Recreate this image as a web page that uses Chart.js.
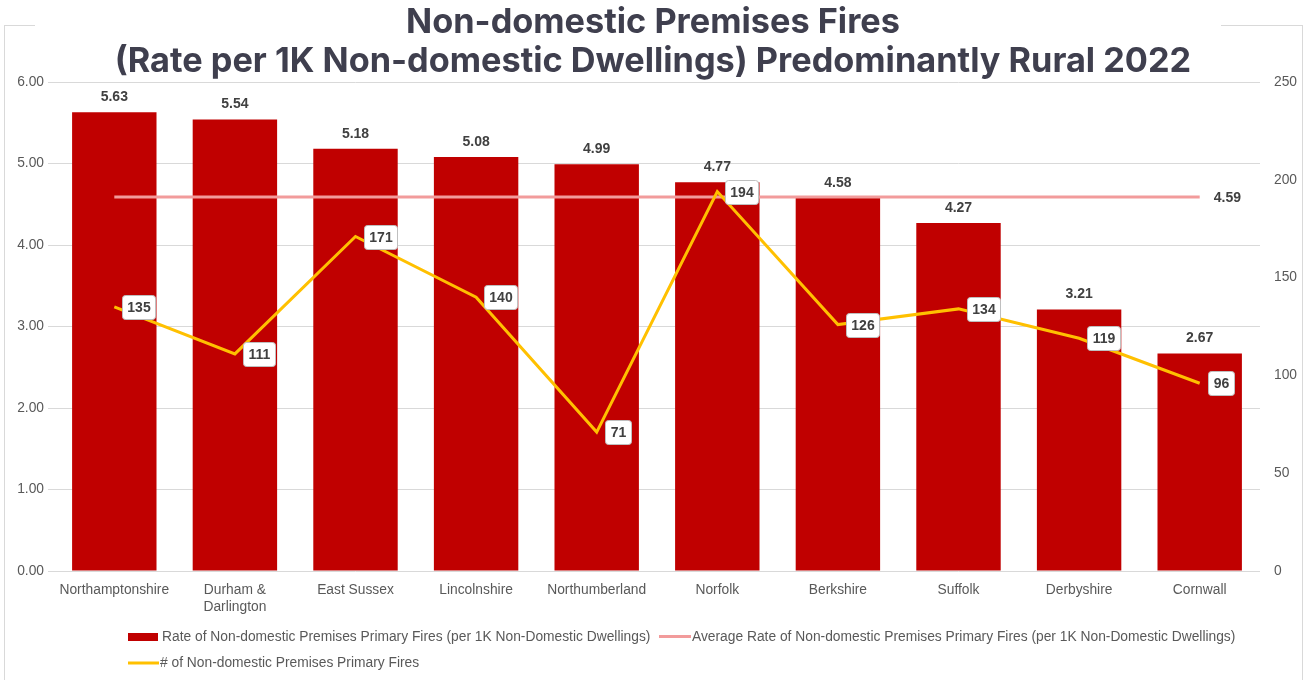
<!DOCTYPE html>
<html>
<head>
<meta charset="utf-8">
<script src="https://cdn.jsdelivr.net/npm/chart.js@4.4.1/dist/chart.umd.min.js"></script>
<style>
  html, body { margin: 0; padding: 0; background: #ffffff; }
  #wrap { width: 1307px; height: 680px; position: relative; }
</style>
</head>
<body>
<div id="wrap"><canvas id="chart" width="1307" height="680"></canvas></div>
<script>
// Fire service areas, ordered by rate
const categories = ['Northamptonshire', ['Durham &', 'Darlington'], 'East Sussex', 'Lincolnshire',
  'Northumberland', 'Norfolk', 'Berkshire', 'Suffolk', 'Derbyshire', 'Cornwall'];
// Rate of non-domestic premises primary fires per 1K non-domestic dwellings
const rateValues = [5.63, 5.54, 5.18, 5.08, 4.99, 4.77, 4.58, 4.27, 3.21, 2.67];
// Average rate across the group
const averageRate = 4.59;
const averageValues = categories.map(() => averageRate);
// Count of non-domestic premises primary fires
const fireCounts = [135, 111, 171, 140, 71, 194, 126, 134, 119, 96];
// Axis tick settings
const leftTicks = { min: 0, max: 6, step: 1 };
const rightTicks = { min: 0, max: 250, step: 50 };
const titleLines = ['Non-domestic Premises Fires', '(Rate per 1K Non-domestic Dwellings) Predominantly Rural 2022'];
const seriesNames = [
  'Rate of Non-domestic Premises Primary Fires (per 1K Non-Domestic Dwellings)',
  'Average Rate of Non-domestic Premises Primary Fires (per 1K Non-Domestic Dwellings)',
  '# of Non-domestic Premises Primary Fires'
];

const BAR = '#C00000', AVG = '#F29B9B', CNT = '#FFC000';
const TEXT = '#595959', LABEL = '#404040';
const FONT = '"Liberation Sans"';
const SIZE = 13.8;

// Frame and title drawn behind the chart
const framePlugin = {
  id: 'frame',
  beforeDraw(chart) {
    const ctx = chart.ctx;
    ctx.save();
    ctx.fillStyle = '#ffffff';
    ctx.fillRect(0, 0, chart.width, chart.height);
    ctx.strokeStyle = '#d9d9d9';
    ctx.lineWidth = 1;
    ctx.strokeRect(4.5, 25.5, 1298, 670);
    ctx.fillRect(35, 18, 1186, 14);
    ctx.fillStyle = '#3F3F4E';
    ctx.font = 'bold 34.3px Inter';
    ctx.textAlign = 'center';
    ctx.textBaseline = 'middle';
    ctx.fillText(titleLines[0], 653, 23);
    ctx.fillText(titleLines[1], 653, 62);
    ctx.restore();
  }
};

// Value labels and legend
const labelPlugin = {
  id: 'labels',
  afterDatasetsDraw(chart) {
    const ctx = chart.ctx;
    ctx.save();
    // bar values
    const barMeta = chart.getDatasetMeta(0);
    ctx.font = 'bold 14px ' + FONT;
    ctx.fillStyle = LABEL;
    ctx.textAlign = 'center';
    ctx.textBaseline = 'middle';
    barMeta.data.forEach((el, i) => {
      ctx.fillText(rateValues[i].toFixed(2), el.x, el.y - 15);
    });
    // average value at the right end
    const avgMeta = chart.getDatasetMeta(1);
    const last = avgMeta.data[avgMeta.data.length - 1];
    ctx.textAlign = 'left';
    ctx.fillText(averageRate.toFixed(2), last.x + 14, last.y + 1);
    // count labels in boxes
    const lineMeta = chart.getDatasetMeta(2);
    lineMeta.data.forEach((el, i) => {
      const txt = String(fireCounts[i]);
      const w = Math.round(ctx.measureText(txt).width + 10);
      const h = 24;
      const x0 = Math.round(el.x + 8), y0 = Math.round(el.y - h / 2);
      ctx.beginPath();
      ctx.roundRect(x0 + 0.5, y0 + 0.5, w, h, 3);
      ctx.fillStyle = '#ffffff';
      ctx.fill();
      ctx.strokeStyle = '#bfbfbf';
      ctx.lineWidth = 1;
      ctx.stroke();
      ctx.fillStyle = LABEL;
      ctx.textAlign = 'center';
      ctx.fillText(txt, x0 + w / 2 + 0.5, y0 + h / 2 + 1);
    });
    // legend
    ctx.font = SIZE + 'px ' + FONT;
    ctx.textAlign = 'left';
    ctx.fillStyle = BAR;
    ctx.fillRect(128, 633, 30, 8);
    ctx.fillStyle = TEXT;
    ctx.fillText(seriesNames[0], 162, 637);
    ctx.strokeStyle = AVG;
    ctx.lineWidth = 3;
    ctx.beginPath(); ctx.moveTo(659, 636.5); ctx.lineTo(691, 636.5); ctx.stroke();
    ctx.fillText(seriesNames[1], 692, 637);
    ctx.strokeStyle = CNT;
    ctx.beginPath(); ctx.moveTo(128, 663); ctx.lineTo(159, 663); ctx.stroke();
    ctx.fillText(seriesNames[2], 160, 663);
    ctx.restore();
  }
};

new Chart(document.getElementById('chart'), {
  data: {
    labels: categories,
    datasets: [
      { type: 'bar', label: seriesNames[0], data: rateValues, backgroundColor: BAR,
        yAxisID: 'y', order: 3, barPercentage: 0.7, categoryPercentage: 1.0 },
      { type: 'line', label: seriesNames[1], data: averageValues, borderColor: AVG,
        borderWidth: 3, pointRadius: 0, yAxisID: 'y', order: 2 },
      { type: 'line', label: seriesNames[2], data: fireCounts, borderColor: CNT,
        borderWidth: 3, pointRadius: 0, yAxisID: 'y1', order: 1, tension: 0 }
    ]
  },
  options: {
    responsive: false,
    animation: false,
    layout: { padding: { top: 82, left: 0, right: 0, bottom: 0 } },
    plugins: { legend: { display: false }, title: { display: false }, tooltip: { enabled: false } },
    scales: {
      x: {
        offset: true,
        grid: { display: false },
        border: { display: false },
        ticks: { color: TEXT, font: { family: 'Liberation Sans', size: SIZE }, padding: 3, maxRotation: 0, autoSkip: false },
        afterFit(s) { s.height = 109; }
      },
      y: {
        position: 'left', min: leftTicks.min, max: leftTicks.max,
        grid: { color: '#d9d9d9', drawTicks: true, tickLength: 6 },
        border: { display: false },
        ticks: { stepSize: leftTicks.step, color: TEXT, font: { family: 'Liberation Sans', size: SIZE }, padding: 4,
          callback: v => Number(v).toFixed(2) },
        afterFit(s) { s.width = 54; }
      },
      y1: {
        position: 'right', min: rightTicks.min, max: rightTicks.max,
        grid: { display: false },
        border: { display: false },
        ticks: { stepSize: rightTicks.step, color: TEXT, font: { family: 'Liberation Sans', size: SIZE }, padding: 6 },
        afterFit(s) { s.width = 47; }
      }
    }
  },
  plugins: [framePlugin, labelPlugin]
});
</script>
</body>
</html>
